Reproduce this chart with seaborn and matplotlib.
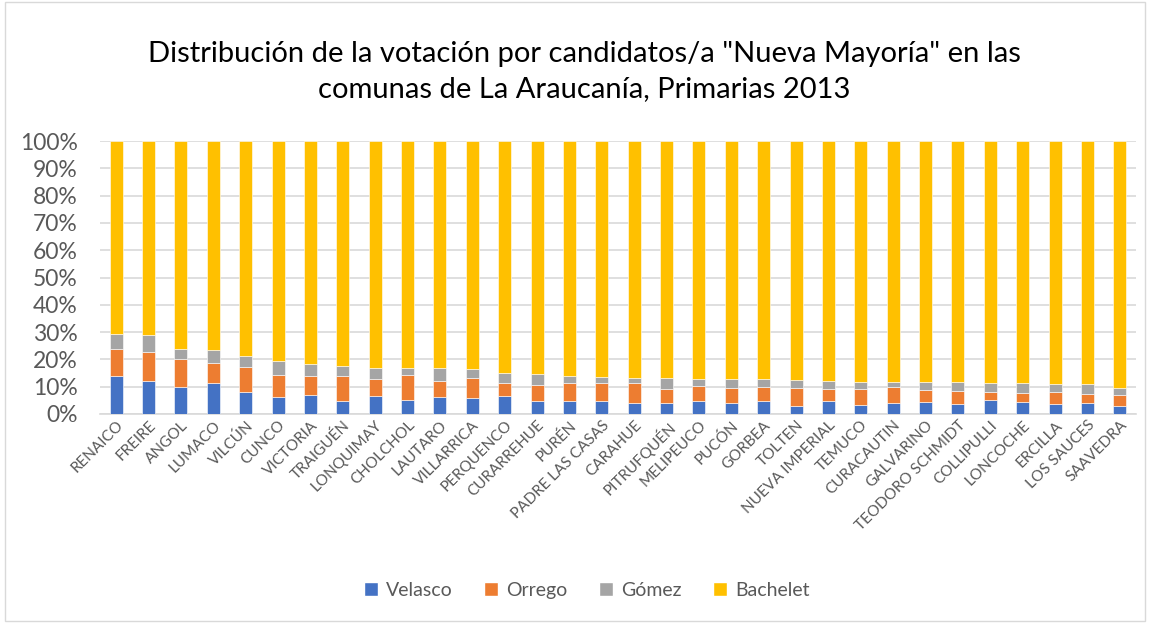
import matplotlib
matplotlib.use("Agg")
import matplotlib.pyplot as plt
from matplotlib.patches import Patch, Rectangle
from matplotlib.ticker import PercentFormatter
import numpy as np
import pandas as pd
import seaborn as sns

comunas = ["RENAICO", "FREIRE", "ANGOL", "LUMACO", "VILCÚN", "CUNCO", "VICTORIA",
           "TRAIGUÉN", "LONQUIMAY", "CHOLCHOL", "LAUTARO", "VILLARRICA", "PERQUENCO",
           "CURARREHUE", "PURÉN", "PADRE LAS CASAS", "CARAHUE", "PITRUFQUÉN",
           "MELIPEUCO", "PUCÓN", "GORBEA", "TOLTEN", "NUEVA IMPERIAL", "TEMUCO",
           "CURACAUTIN", "GALVARINO", "TEODORO SCHMIDT", "COLLIPULLI", "LONCOCHE",
           "ERCILLA", "LOS SAUCES", "SAAVEDRA"]

# share of votes (%) per candidate
velasco = [14.0, 12.1, 10.0, 11.5, 8.0, 6.1, 7.1, 4.8, 6.7, 5.1, 6.1, 6.0, 6.5,
           4.9, 4.9, 4.9, 4.1, 4.1, 4.9, 4.1, 4.9, 3.0, 4.6, 3.3, 4.0, 4.5, 3.8,
           5.2, 4.5, 3.8, 4.1, 3.0]
orrego = [9.7, 10.7, 10.1, 7.0, 9.2, 8.2, 6.7, 9.0, 6.0, 9.2, 6.1, 7.3, 5.0,
          5.6, 6.6, 6.6, 7.4, 4.9, 5.5, 5.5, 5.1, 6.6, 4.7, 5.8, 6.0, 4.4, 4.6,
          2.8, 3.3, 4.1, 3.1, 4.1]
gomez = [5.7, 6.1, 3.6, 5.0, 3.9, 5.2, 4.4, 3.9, 4.3, 2.7, 4.6, 3.3, 3.7,
         4.0, 2.6, 2.2, 1.8, 4.3, 2.6, 3.2, 2.8, 2.8, 2.9, 2.7, 1.8, 2.9, 3.4,
         3.5, 3.5, 3.0, 3.7, 2.5]
bachelet = [100 - v - o - g for v, o, g in zip(velasco, orrego, gomez)]

candidatos = ["Velasco", "Orrego", "Gómez", "Bachelet"]
colores = ["#4472C4", "#ED7D31", "#A5A5A5", "#FFC000"]

df = pd.DataFrame({"comuna": comunas, "Velasco": velasco, "Orrego": orrego,
                   "Gómez": gomez, "Bachelet": bachelet})

sns.set_style("white")
plt.rcParams["font.family"] = ["Lato", "DejaVu Sans"]

fig = plt.figure(figsize=(11.5, 6.23), dpi=100)
ax = fig.add_axes([100 / 1150, 1 - 414 / 623, 1036 / 1150, 273 / 623])

# stacked bars, one layer per candidate
base = np.zeros(len(df))
for cand, col in zip(candidatos, colores):
    sns.barplot(data=df, x="comuna", y=cand, order=comunas, color=col,
                bottom=base, width=0.4, edgecolor="white", linewidth=0.4,
                saturation=1, ax=ax, zorder=3)
    base = base + df[cand].values

ax.set_ylim(0, 100)
ax.set_xlim(-0.5, len(comunas) - 0.5)
ax.set_yticks(np.arange(0, 101, 10))
ax.yaxis.set_major_formatter(PercentFormatter(decimals=0))
ax.grid(axis="y", color="#D9D9D9", linewidth=1.2, zorder=0)
ax.set_axisbelow(True)
for s in ["top", "right", "left"]:
    ax.spines[s].set_visible(False)
ax.spines["bottom"].set_color("#D9D9D9")
ax.spines["bottom"].set_linewidth(1.2)
ax.set_xlabel("")
ax.set_ylabel("")
ax.tick_params(axis="y", labelsize=16.5, labelcolor="#595959", length=0, pad=16)
ax.tick_params(axis="x", labelsize=11, labelcolor="#595959", length=0, pad=3)
plt.setp(ax.get_xticklabels(), rotation=45, ha="right", rotation_mode="anchor")

fig.text(0.508, 0.885, "Distribución de la votación por candidatos/a \"Nueva Mayoría\" en las\n"
         "comunas de La Araucanía, Primarias 2013", ha="center", va="center",
         fontsize=21, color="#000000", linespacing=1.45)

handles = [Patch(facecolor=c, label=n) for n, c in zip(candidatos, colores)]
fig.legend(handles=handles, loc="center", bbox_to_anchor=(0.51, 0.052), ncol=4,
           frameon=False, fontsize=14, handlelength=0.75, handleheight=0.75,
           columnspacing=1.6, handletextpad=0.4, labelcolor="#595959")

fig.patches.append(Rectangle((5 / 1150, 2 / 623), 1 - 10 / 1150, 1 - 4 / 623,
                             transform=fig.transFigure, fill=False,
                             edgecolor="#D9D9D9", linewidth=1))

fig.savefig("out.png", dpi=100)
